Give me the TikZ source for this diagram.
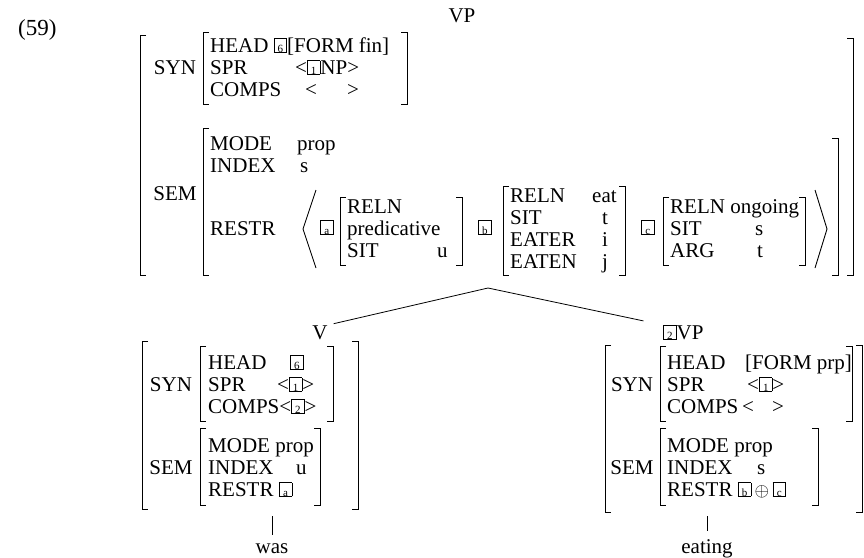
\documentclass[tikz,border=0pt]{standalone}
\usepackage{fontspec}
\setmainfont{Liberation Serif}
\usepackage{tikz}
\usetikzlibrary{positioning}

\newcommand{\avmfont}{\fontsize{21}{22}\selectfont}
% boxed tag
\newcommand{\bx}[1]{{\setlength{\fboxsep}{0pt}\setlength{\fboxrule}{0.7pt}\fbox{\makebox[12pt][c]{\rule{0pt}{13pt}\fontsize{11}{11}\selectfont #1}}}}
% brackets: x, top y, bottom y
\newcommand{\lbr}[3]{\draw[brk] ({#1+6},#2) -- (#1,#2) -- (#1,#3) -- ({#1+6},#3);}
\newcommand{\rbr}[3]{\draw[brk] ({#1-6},#2) -- (#1,#2) -- (#1,#3) -- ({#1-6},#3);}

\begin{document}
\begin{tikzpicture}[
  x=1pt, y=-1pt,
  brk/.style={line width=0.9pt},
  branch/.style={line width=0.8pt},
  avm/.style={anchor=base west, inner sep=0pt, font=\avmfont},
  lbl/.style={anchor=base, inner sep=0pt, font=\avmfont}
]
\useasboundingbox (0,0) rectangle (864,557);

% Example number and mother node
\node[avm, font=\fontsize{23}{24}\selectfont] (exnum) at (18,35) {(59)};
\node[lbl] (vpTop) at (462,22) {VP};

% Outer brackets of the mother
\lbr{140}{35}{275}
\rbr{853}{38}{275}

% SYN of mother
\node[lbl] (synLbl) at (175,74) {SYN};
\lbr{203}{32}{104}
\node[avm] (synTop) at (210,52) {\begin{tabular}[t]{@{}l@{}}
  HEAD \bx{6}[FORM fin]\\
  \makebox[85pt][l]{SPR}<\bx{1}NP>\\
  \makebox[95pt][l]{COMPS}<\hspace{30pt}>
\end{tabular}};
\rbr{407}{32}{104}

% SEM of mother
\node[lbl] (semLbl) at (175,200) {SEM};
\lbr{203}{128}{275}
\rbr{838}{138}{275}
\node[avm] (semTop) at (210,150) {\begin{tabular}[t]{@{}l@{}}
  \makebox[87pt][l]{MODE}prop\\
  \makebox[90pt][l]{INDEX}s
\end{tabular}};
\node[avm] (restrLbl) at (210,235) {RESTR};

% RESTR list
\draw[brk] (316,190) -- (303,229) -- (316,268);
\node[avm] (tagA) at (320,234) {\bx{a}};
\lbr{340}{197}{265}
\node[avm] (avmA) at (347,213) {\begin{tabular}[t]{@{}l@{}}
  RELN\\
  predicative\\
  \makebox[90pt][l]{SIT}u
\end{tabular}};
\rbr{462}{197}{265}
\node[avm] (tagB) at (478,234) {\bx{b}};
\lbr{503}{186}{275}
\node[avm] (avmB) at (510,202) {\begin{tabular}[t]{@{}l@{}}
  \makebox[82pt][l]{RELN}eat\\
  \makebox[92pt][l]{SIT}t\\
  \makebox[92pt][l]{EATER}i\\
  \makebox[92pt][l]{EATEN}j
\end{tabular}};
\rbr{625}{186}{275}
\node[avm] (tagC) at (641,234) {\bx{c}};
\lbr{663}{197}{265}
\node[avm] (avmC) at (670,213) {\begin{tabular}[t]{@{}l@{}}
  RELN ongoing\\
  \makebox[85pt][l]{SIT}s\\
  \makebox[87pt][l]{ARG}t
\end{tabular}};
\rbr{805}{197}{265}
\draw[brk] (815,190) -- (827,229) -- (815,268);

% Tree branches
\coordinate (apex) at (488,288);
\node[lbl] (vLbl) at (320,339) {V};
\node[avm] (vpLbl) at (663,339) {\bx{2}VP};
\draw[branch, shorten >=6pt] (apex) -- (vLbl.north east);
\draw[branch, shorten >=20pt] (apex) -- (vpLbl.north west);

% Left daughter: was
\lbr{142}{341}{509}
\rbr{358}{341}{509}
\node[lbl] (synV) at (171,391) {SYN};
\lbr{200}{346}{421}
\node[avm] (synVavm) at (208,369) {\begin{tabular}[t]{@{}l@{}}
  \makebox[82pt][l]{HEAD}\bx{6}\\
  \makebox[69pt][l]{SPR}<\bx{1}>\\
  COMPS<\bx{2}>
\end{tabular}};
\rbr{333}{346}{421}
\node[lbl] (semV) at (171,474) {SEM};
\lbr{200}{428}{505}
\node[avm] (semVavm) at (208,452) {\begin{tabular}[t]{@{}l@{}}
  MODE prop\\
  \makebox[88pt][l]{INDEX}u\\
  RESTR \bx{a}
\end{tabular}};
\rbr{320}{428}{505}
\node[lbl] (was) at (272,553) {was};
\coordinate (wasTop) at (272,516);
\draw[branch, shorten >=8pt] (wasTop) -- (was.north);

% Right daughter: eating
\lbr{605}{345}{512}
\rbr{862}{345}{512}
\node[lbl] (synVP) at (632,391) {SYN};
\lbr{660}{346}{421}
\node[avm] (synVPavm) at (667,369) {\begin{tabular}[t]{@{}l@{}}
  \makebox[78pt][l]{HEAD}[FORM prp]\\
  \makebox[80pt][l]{SPR}<\bx{1}>\\
  \makebox[75pt][l]{COMPS}<\hspace{18pt}>
\end{tabular}};
\rbr{852}{346}{421}
\node[lbl] (semVP) at (632,474) {SEM};
\lbr{660}{428}{505}
\node[avm] (semVPavm) at (667,452) {\begin{tabular}[t]{@{}l@{}}
  MODE prop\\
  \makebox[90pt][l]{INDEX}s\\
  RESTR \bx{b}\,\scalebox{0.9}{$\oplus$}\,\bx{c}
\end{tabular}};
\rbr{818}{428}{505}
\node[lbl] (eating) at (707,553) {eating};
\coordinate (eatTop) at (707,516);
\draw[branch, shorten >=8pt] (eatTop) -- (eating.north);

\end{tikzpicture}
\end{document}
